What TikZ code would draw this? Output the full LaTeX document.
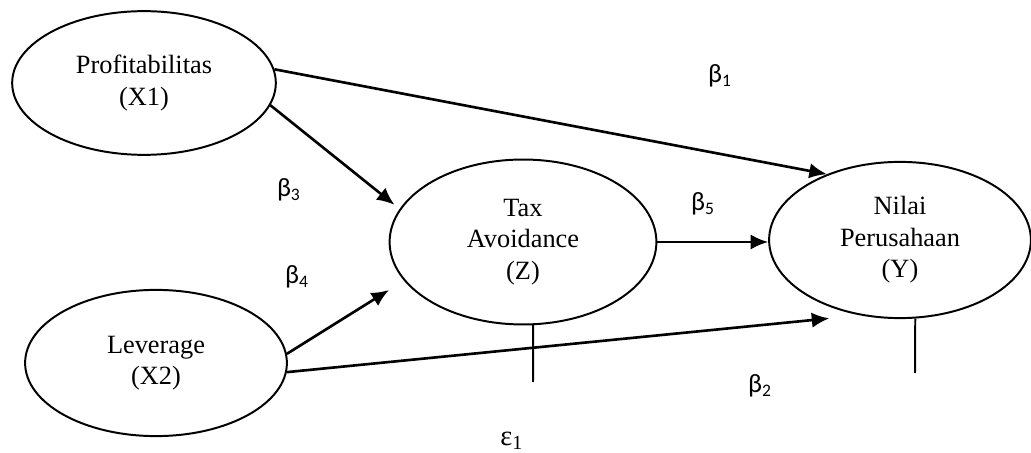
\documentclass[tikz,border=0pt]{standalone}
\usepackage{fontspec}
\setmainfont{Liberation Serif}
\newfontfamily\calibri{Carlito}
\usetikzlibrary{shapes.geometric,arrows.meta}

\begin{document}
\begin{tikzpicture}[x=0.016cm,y=-0.016cm,
  var/.style={ellipse, draw, line width=0.9pt, inner sep=0pt, align=center, font=\fontsize{12}{14.3}\selectfont},
  jalur/.style={line width=1.2pt, -{Latex[length=8pt,width=7pt]}},
  koef/.style={font=\calibri\fontsize{12}{14}\selectfont}]
\useasboundingbox (0,0) rectangle (1031,453);

% variabel
\node[var, minimum width=4.22cm, minimum height=2.3cm] (x1) at (144,83) {Profitabilitas\\(X1)};
\node[var, minimum width=4.19cm, minimum height=2.34cm] (x2) at (156,363) {Leverage\\(X2)};
\node[var, minimum width=4.27cm, minimum height=2.64cm] (z) at (523,242) {Tax\\Avoidance\\(Z)};
\node[var, minimum width=4.19cm, minimum height=2.5cm] (y) at (900,240) {Nilai\\Perusahaan\\(Y)};

% jalur
\draw[jalur] (x1.6) -- (y.138);
\draw[jalur, shorten >=3pt] (x1.-10) -- (z.165);
\draw[jalur, shorten >=8pt] (x2.4) -- (z.198);
\draw[jalur, shorten >=14pt] (x2.-4) -- (y.242);
\draw[jalur] (z.east) -- (z.east -| y.west);

% error
\coordinate (ez) at (533,382);
\coordinate (ey) at (915,373);
\draw[line width=0.9pt] (z.-83) -- (ez);
\draw[line width=0.9pt] (y.-79) -- (ey);

% koefisien
\node[koef] (b1) at (720,76) {β\textsubscript{1}};
\node[koef] (b3) at (289,190) {β\textsubscript{3}};
\node[koef] (b5) at (703,204) {β\textsubscript{5}};
\node[koef] (b4) at (297,277) {β\textsubscript{4}};
\node[koef] (b2) at (760,386) {β\textsubscript{2}};
\node[font=\fontsize{13}{15}\selectfont] (e1) at (512,441) {ε\textsubscript{1}};
\end{tikzpicture}
\end{document}
